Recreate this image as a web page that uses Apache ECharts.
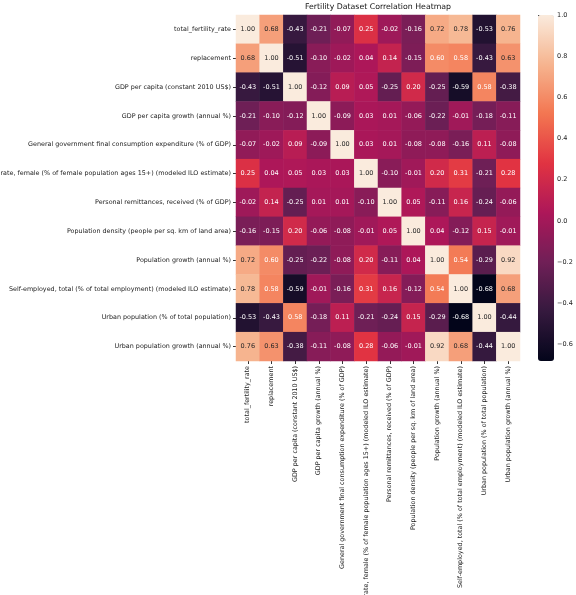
<!DOCTYPE html>
<html>
<head>
<meta charset="utf-8">
<script src="https://cdn.jsdelivr.net/npm/echarts@6/dist/echarts.min.js"></script>
<style>
  html, body { margin: 0; padding: 0; background: #fff; }
  #chart { width: 576px; height: 595px; }
</style>
</head>
<body>
<div id="chart"></div>
<script>
const variables = [
  "total_fertility_rate",
  "replacement",
  "GDP per capita (constant 2010 US$)",
  "GDP per capita growth (annual %)",
  "General government final consumption expenditure (% of GDP)",
  "Labor force participation rate, female (% of female population ages 15+) (modeled ILO estimate)",
  "Personal remittances, received (% of GDP)",
  "Population density (people per sq. km of land area)",
  "Population growth (annual %)",
  "Self-employed, total (% of total employment) (modeled ILO estimate)",
  "Urban population (% of total population)",
  "Urban population growth (annual %)"
];

// correlation matrix, one row per variable
const corrRows = [
  [1.00, 0.68, -0.43, -0.21, -0.07, 0.25, -0.02, -0.16, 0.72, 0.78, -0.53, 0.76],
  [0.68, 1.00, -0.51, -0.10, -0.02, 0.04, 0.14, -0.15, 0.60, 0.58, -0.43, 0.63],
  [-0.43, -0.51, 1.00, -0.12, 0.09, 0.05, -0.25, 0.20, -0.25, -0.59, 0.58, -0.38],
  [-0.21, -0.10, -0.12, 1.00, -0.09, 0.03, 0.01, -0.06, -0.22, -0.01, -0.18, -0.11],
  [-0.07, -0.02, 0.09, -0.09, 1.00, 0.03, 0.01, -0.08, -0.08, -0.16, 0.11, -0.08],
  [0.25, 0.04, 0.05, 0.03, 0.03, 1.00, -0.10, -0.01, 0.20, 0.31, -0.21, 0.28],
  [-0.02, 0.14, -0.25, 0.01, 0.01, -0.10, 1.00, 0.05, -0.11, 0.16, -0.24, -0.06],
  [-0.16, -0.15, 0.20, -0.06, -0.08, -0.01, 0.05, 1.00, 0.04, -0.12, 0.15, -0.01],
  [0.72, 0.60, -0.25, -0.22, -0.08, 0.20, -0.11, 0.04, 1.00, 0.54, -0.29, 0.92],
  [0.78, 0.58, -0.59, -0.01, -0.16, 0.31, 0.16, -0.12, 0.54, 1.00, -0.68, 0.68],
  [-0.53, -0.43, 0.58, -0.18, 0.11, -0.21, -0.24, 0.15, -0.29, -0.68, 1.00, -0.44],
  [0.76, 0.63, -0.38, -0.11, -0.08, 0.28, -0.06, -0.01, 0.92, 0.68, -0.44, 1.00]
];

const colorbarTicks = [-0.6, -0.4, -0.2, 0.0, 0.2, 0.4, 0.6, 0.8, 1.0];

const vMin = -0.68;
const vMax = 1.0;

// seaborn "rocket"
const rocket = ["#03051a", "#35193e", "#701f57", "#ad1759", "#e13342", "#f37651", "#f6b48f", "#faebdd"];

const cells = [];
corrRows.forEach((row, r) => {
  row.forEach((v, c) => {
    const t = (v - vMin) / (vMax - vMin);
    cells.push({
      value: [c, r, v],
      label: { color: t > 0.77 ? "#262626" : "#ffffff" }
    });
  });
});

const chart = echarts.init(document.getElementById("chart"));

const option = {
  backgroundColor: "#fff",
  animation: false,
  title: {
    text: "Fertility Dataset Correlation Heatmap",
    left: 378,
    top: 3,
    padding: 0,
    textAlign: "center",
    textStyle: { fontFamily: "DejaVu Sans", fontSize: 7.8, fontWeight: "normal", color: "#111" }
  },
  grid: [
    { left: 236, right: 56, top: 15, bottom: 234, outerBoundsMode: "none", containLabel: false },
    { left: 538, width: 16, top: 15, bottom: 234, outerBoundsMode: "none", containLabel: false }
  ],
  xAxis: [
    {
      type: "category",
      data: variables,
      gridIndex: 0,
      axisLine: { show: false },
      axisTick: { show: true, length: 3, lineStyle: { color: "#333" }, alignWithLabel: true },
      splitLine: { show: false },
      axisLabel: {
        rotate: 90,
        interval: 0,
        margin: 5,
        fontFamily: "DejaVu Sans",
        fontSize: 6.4,
        color: "#222"
      }
    },
    {
      type: "value",
      gridIndex: 1,
      show: false
    }
  ],
  yAxis: [
    {
      type: "category",
      data: variables,
      inverse: true,
      gridIndex: 0,
      axisLine: { show: false },
      axisTick: { show: true, length: 3, lineStyle: { color: "#333" }, alignWithLabel: true },
      splitLine: { show: false },
      axisLabel: {
        interval: 0,
        margin: 5,
        fontFamily: "DejaVu Sans",
        fontSize: 6.4,
        color: "#222"
      }
    },
    {
      type: "value",
      gridIndex: 1,
      position: "right",
      min: vMin,
      max: vMax,
      axisLine: { show: false },
      splitLine: { show: false },
      axisTick: { show: true, length: 3, lineStyle: { color: "#333" }, customValues: colorbarTicks },
      axisLabel: {
        margin: 3,
        fontFamily: "DejaVu Sans",
        fontSize: 6.5,
        color: "#222",
        customValues: colorbarTicks,
        formatter: (v) => v.toFixed(1).replace("-", "\u2212")
      }
    }
  ],
  visualMap: {
    type: "continuous",
    min: vMin,
    max: vMax,
    dimension: 2,
    seriesIndex: 0,
    calculable: false,
    hoverLink: false,
    orient: "vertical",
    left: 538,
    top: 15,
    padding: 0,
    itemWidth: 16,
    itemHeight: 346,
    text: null,
    inRange: { color: rocket }
  },
  series: [
    {
      type: "heatmap",
      xAxisIndex: 0,
      yAxisIndex: 0,
      data: cells,
      label: {
        show: true,
        fontFamily: "DejaVu Sans",
        fontSize: 6.5,
        formatter: (p) => p.value[2].toFixed(2)
      },
      itemStyle: { borderWidth: 0 }
    }
  ]
};

chart.setOption(option);
</script>
</body>
</html>
